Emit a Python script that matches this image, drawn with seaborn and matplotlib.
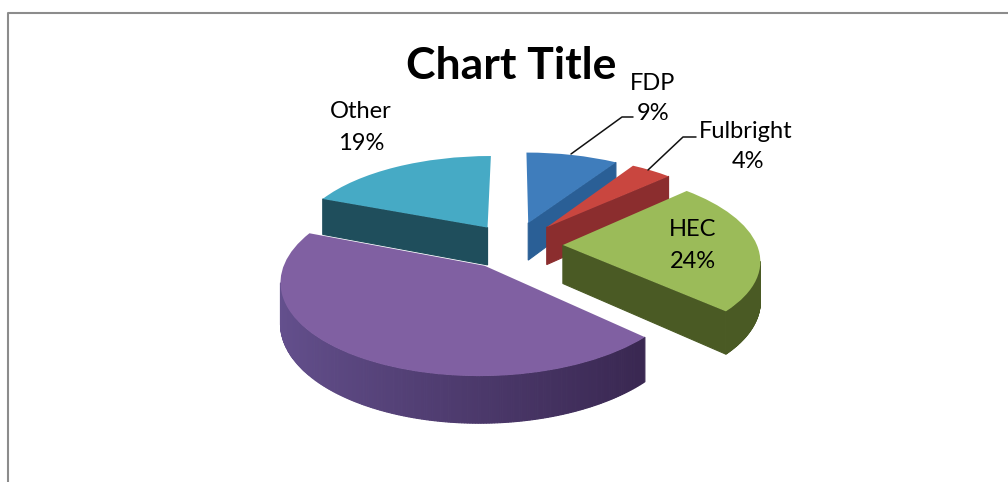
import numpy as np
import matplotlib
matplotlib.use("Agg")
import matplotlib.pyplot as plt
import matplotlib.transforms as mtransforms
from matplotlib.colors import to_rgb
import seaborn as sns

# --- data ---
categories = ["FDP", "Fulbright", "HEC", "Self Finance", "Other"]
shares = [9, 4, 24, 44, 19]
top_colors = ["#3F7DBC", "#C9463F", "#9BBB59", "#8060A2", "#46AAC5"]
wall_colors = ["#2A5F96", "#8B2D2E", "#4A5A24", "#3A2852", "#1F4E5C"]
title = "Chart Title"

# --- style ---
sns.set_theme(style="white")
plt.rcParams["font.family"] = ["Lato", "DejaVu Sans"]

fig = plt.figure(figsize=(10.08, 4.82), dpi=100, facecolor="white")
ax = fig.add_axes([0, 0, 1, 1])

CX, CY, RX, RY, K, DEPTH = 514.0, 245.0, 194.0, 87.0, 0.149, 38.5
pull_out = [0.273, 0.273, 0.252, 0.273, 0.250]


class Tilt(mtransforms.Transform):
    """Perspective view of the flat pie plane, in pixel-like axis units."""
    input_dims = 2
    output_dims = 2
    is_separable = False

    def transform_non_affine(self, xy):
        xy = np.asarray(xy, dtype=float)
        w = 1 + K * xy[:, 1]
        return np.column_stack([CX + RX * xy[:, 0] / w, CY - RY * xy[:, 1] / w])


tilt = Tilt()


def lift(x, y, below=False):
    x, y = np.asarray(x, float), np.asarray(y, float)
    w = 1 + K * y
    px = CX + RX * x / w
    py = CY - RY * y / w + (DEPTH / w if below else 0)
    return px, py


wedges, _ = ax.pie(shares, explode=pull_out, startangle=90,
                   counterclock=False, colors=sns.color_palette(top_colors),
                   radius=1, wedgeprops=dict(linewidth=0))

ax.set_aspect("auto")
ax.set_xlim(0, 1008)
ax.set_ylim(482, 0)
ax.axis("off")

# back-to-front painting order
order = {4: 1, 0: 2, 1: 3, 2: 4, 3: 5}


def face(x0, y0, x1, y1, color, z, min_area=0.0):
    xs = np.array([x0, x1])
    ys = np.array([y0, y1])
    tx, ty = lift(xs, ys)
    bx, by = lift(xs, ys, below=True)
    px = np.r_[tx, bx[::-1]]
    py = np.r_[ty, by[::-1]]
    area = 0.5 * np.sum(px * np.roll(py, -1) - np.roll(px, -1) * py)
    if area > min_area:
        ax.fill(px, py, color=color, lw=0.8, zorder=z)


for i, w in enumerate(wedges):
    z = order[i] * 10
    w.set_transform(tilt + ax.transData)
    w.set_zorder(z + 5)
    ax0, ay0 = w.center
    a1, a2 = np.deg2rad(w.theta1), np.deg2rad(w.theta2)
    dark = np.array(to_rgb(wall_colors[i]))
    # cut faces, walking the slice outline in one direction
    face(ax0, ay0, ax0 + np.cos(a1), ay0 + np.sin(a1), dark, z, 250)
    face(ax0 + np.cos(a2), ay0 + np.sin(a2), ax0, ay0, dark, z, 250)
    # curved outer wall
    angles = np.linspace(a1, a2, 240)
    for a, b in zip(angles[:-1], angles[1:]):
        xm = CX + RX * (ax0 + np.cos((a + b) / 2))
        t = np.clip((620 - xm) / 330, 0, 1)
        col = dark + (np.array(to_rgb("#65518F")) - dark) * t if categories[i] == "Self Finance" else dark
        face(ax0 + np.cos(a), ay0 + np.sin(a), ax0 + np.cos(b), ay0 + np.sin(b), tuple(col), z + 1)

# border of the chart area
ax.plot([7.5, 7.5, 1008], [482, 12.5, 12.5], color="#8C8C8C", lw=1.5, zorder=1)

# title
ax.text(511, 66, title, ha="center", va="center", fontsize=32, fontweight="bold", color="black", zorder=50)

# data labels
name_pos = [(653, 84), (746, 131), (693, 230), (393, 303), (361, 112)]
pct_pos = [(653, 113), (748, 162), (693, 261), (400, 334), (361, 143)]
for name, pct, (nx, ny), (vx, vy) in zip(categories, shares, name_pos, pct_pos):
    ax.text(nx, ny, name, ha="center", va="center", fontsize=17, color="black", zorder=50)
    ax.text(vx, vy, f"{pct}%", ha="center", va="center", fontsize=17, color="black", zorder=50)

# leader lines
ax.plot([571, 622, 633], [154, 117, 117], color="#111111", lw=1.1, zorder=40)
ax.plot([648, 683, 696], [170, 137, 137], color="#111111", lw=1.1, zorder=40)

fig.savefig("out.png", dpi=100, facecolor="white")
